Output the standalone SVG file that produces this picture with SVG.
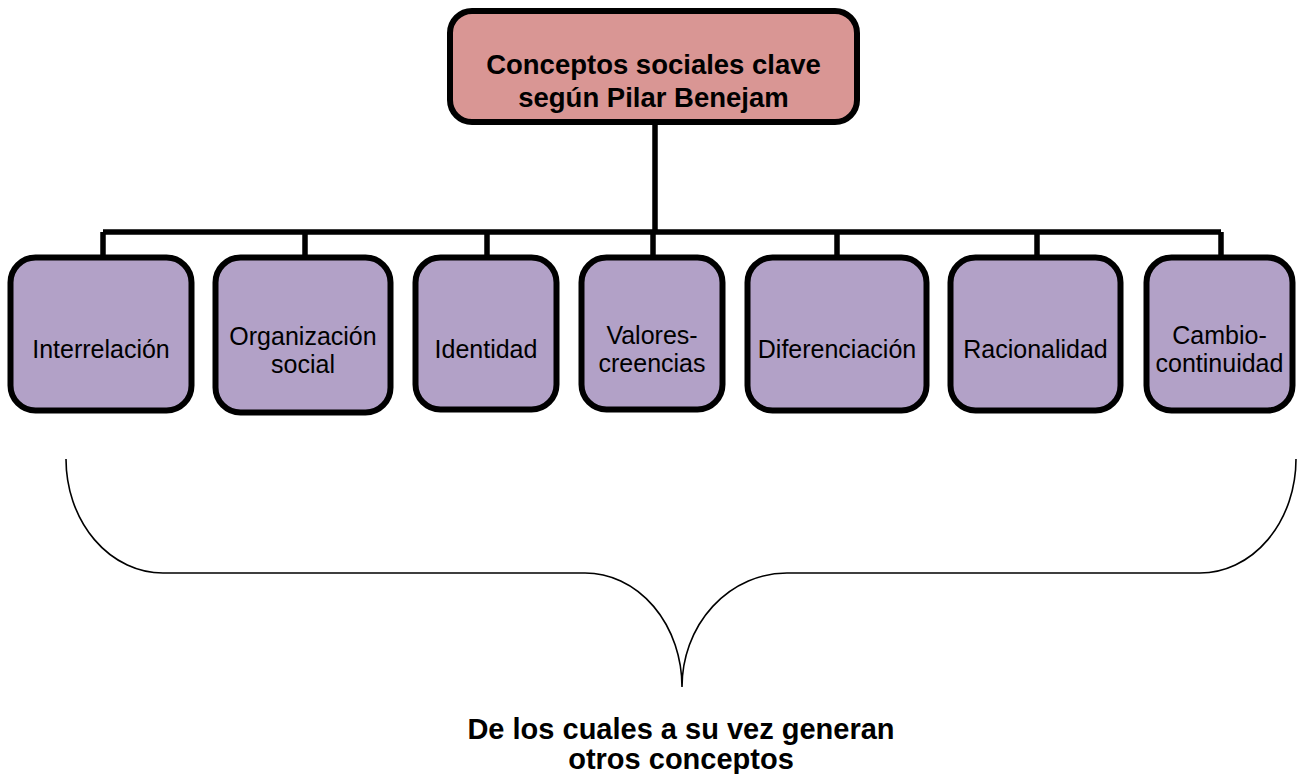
<svg xmlns="http://www.w3.org/2000/svg" width="1297" height="774" viewBox="0 0 1297 774">
<style>
.box{stroke:#000;stroke-width:6}
.top{fill:#D99694}
.child{fill:#B2A1C7}
.conn{fill:none;stroke:#000;stroke-width:5.5}
.brace{fill:none;stroke:#000;stroke-width:1.6}
.t{font-family:"Liberation Sans",Arial,sans-serif;fill:#000;text-anchor:middle}
.b{font-weight:bold}
.c{font-size:25px}
</style>
<rect width="1297" height="774" fill="#fff"/>
<g id="connectors">
<path class="conn" d="M655,124V232M103,232H1221M103,232V256M305,232V256M487,232V256M653,232V256M837,232V256M1037,232V256M1221,232V256"/>
</g>
<g id="root">
<rect class="box top" x="450" y="11" width="407" height="111" rx="22"/>
<text class="t b" font-size="27.5" x="653.5" y="74">Conceptos sociales clave</text>
<text class="t b" font-size="27.5" x="653.5" y="107">según Pilar Benejam</text>
</g>
<g id="n1">
<rect class="box child" x="10.5" y="257.5" width="181" height="153" rx="25"/>
<text class="t c" x="101" y="358">Interrelación</text>
</g>
<g id="n2">
<rect class="box child" x="215.5" y="257.5" width="175" height="155" rx="25"/>
<text class="t c" x="303" y="345">Organización</text>
<text class="t c" x="303" y="373">social</text>
</g>
<g id="n3">
<rect class="box child" x="415.5" y="257.5" width="141" height="152" rx="25"/>
<text class="t c" x="486" y="358">Identidad</text>
</g>
<g id="n4">
<rect class="box child" x="581.5" y="257.5" width="141" height="152" rx="25"/>
<text class="t c" x="652" y="344">Valores-</text>
<text class="t c" x="652" y="372">creencias</text>
</g>
<g id="n5">
<rect class="box child" x="747.5" y="257.5" width="179" height="153" rx="25"/>
<text class="t c" x="837" y="358">Diferenciación</text>
</g>
<g id="n6">
<rect class="box child" x="950.5" y="257.5" width="170" height="153" rx="25"/>
<text class="t c" x="1035.5" y="358">Racionalidad</text>
</g>
<g id="n7">
<rect class="box child" x="1146.5" y="257.5" width="146" height="153" rx="25"/>
<text class="t c" x="1219.5" y="344">Cambio-</text>
<text class="t c" x="1219.5" y="372">continuidad</text>
</g>
<g id="brace">
<path class="brace" d="M66,459 A97,114 0 0 0 163,573 L585,573 A97,114 0 0 1 682,687 A105,114 0 0 1 787,573 L1200,573 A96,114 0 0 0 1296,459"/>
</g>
<g id="caption">
<text class="t b" font-size="29" x="681" y="739">De los cuales a su vez generan</text>
<text class="t b" font-size="29" x="681" y="769">otros conceptos</text>
</g>
</svg>
